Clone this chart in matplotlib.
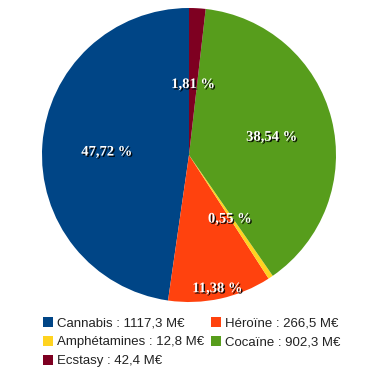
import matplotlib
matplotlib.use("Agg")
import matplotlib.pyplot as plt
import matplotlib.patheffects as pe
from matplotlib.patches import Patch
import numpy as np

categories = ["Cannabis", "Héroïne", "Amphétamines", "Cocaïne", "Ecstasy"]
values = [1117.3, 266.5, 12.8, 902.3, 42.4]
percent_labels = ["47,72 %", "11,38 %", "0,55 %", "38,54 %", "1,81 %"]
value_labels = ["1117,3 M€", "266,5 M€", "12,8 M€", "902,3 M€", "42,4 M€"]
colors = ["#004586", "#ff420e", "#ffd320", "#579d1c", "#7e0021"]
label_radius = [0.56, 0.91, 0.5, 0.58, 0.5]

fig = plt.figure(figsize=(3.78, 3.78), dpi=100)
ax = fig.add_axes([(189 - 147) / 378, (378 - 155 - 147) / 378, 294 / 378, 294 / 378])
wedges, _ = ax.pie(values, colors=colors, startangle=90, counterclock=True,
                   wedgeprops=dict(linewidth=0))
ax.set_xlim(-1, 1)
ax.set_ylim(-1, 1)
ax.set_aspect("equal")
ax.axis("off")

for w, lab, r in zip(wedges, percent_labels, label_radius):
    ang = np.deg2rad((w.theta1 + w.theta2) / 2)
    t = ax.text(r * np.cos(ang), r * np.sin(ang) - 0.02, lab, ha="center", va="center",
                color="white", fontsize=10.5, fontweight="bold",
                family="Liberation Serif")
    t.set_path_effects([pe.withSimplePatchShadow(offset=(1, -1), shadow_rgbFace="black", alpha=0.9)])

handles = [Patch(facecolor=c, edgecolor="none") for c in colors]
labels = [f"{c} : {v}" for c, v in zip(categories, value_labels)]
rows = [[0, 1], [2, 3], [4]]
col1 = [r[0] for r in rows]
col2 = [r[1] for r in rows if len(r) > 1]
seq = col1 + col2
leg = fig.legend([handles[i] for i in seq], [labels[i] for i in seq], ncol=2,
                 loc="upper left", bbox_to_anchor=(43 / 378, 1 - 317 / 378),
                 frameon=False, prop=dict(family="Liberation Sans", size=9.5),
                 handlelength=0.75, handleheight=0.75, handletextpad=0.3,
                 columnspacing=0.55, labelspacing=0.5, borderpad=0, borderaxespad=0)
for t in leg.get_texts():
    t.set_color("#222222")

fig.savefig("out.png", dpi=100)
